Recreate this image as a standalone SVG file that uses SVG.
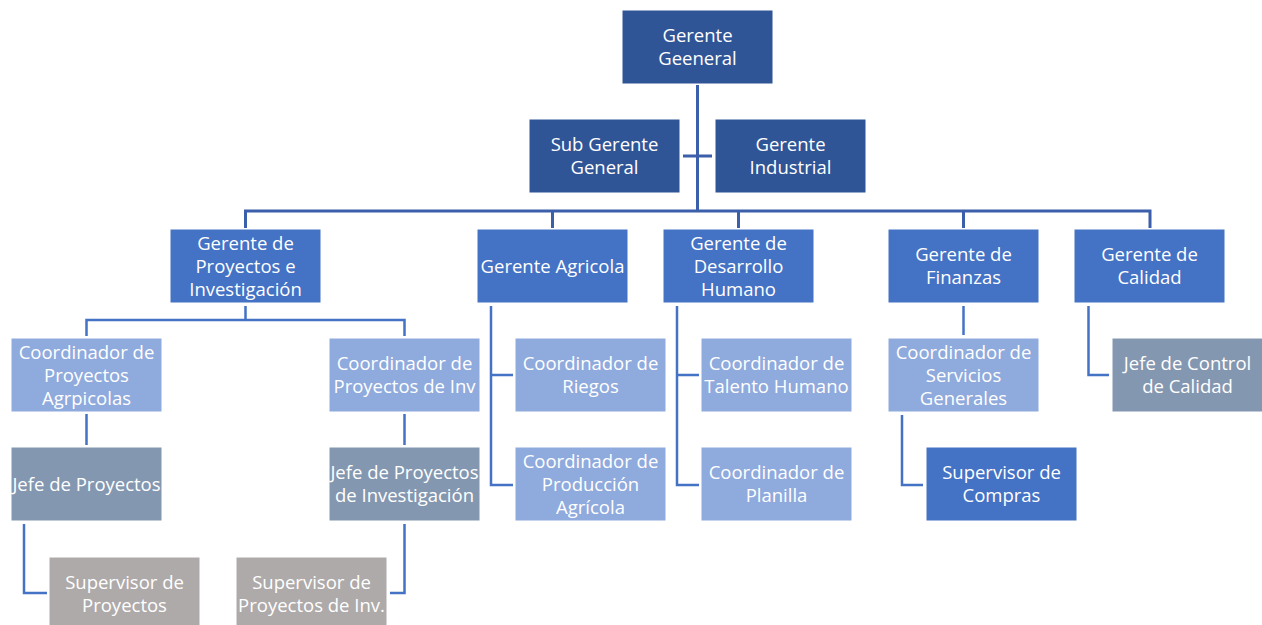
<svg xmlns="http://www.w3.org/2000/svg" width="1262" height="625" viewBox="0 0 1262 625">
<style>
.n rect{stroke:#ffffff;stroke-width:1}
.l1 rect{fill:#2F5597}
.l2 rect{fill:#4472C4}
.l3 rect{fill:#8FAADC}
.l4 rect{fill:#8497B0}
.l5 rect{fill:#AEAAAA}
.n text{font-family:"Open Sans","DejaVu Sans",sans-serif;font-size:18.5px;fill:#ffffff;text-anchor:middle}
.c{fill:none;stroke-linejoin:miter;stroke-linecap:butt}
.c1{stroke:#3B5FAA;stroke-width:3}
.c2{stroke:#4472C4;stroke-width:2.5}
</style>
<rect width="1262" height="625" fill="#ffffff"/>
<g id="connectors">
<path class="c c1" d="M697.5 85 V211 M683 156 H712 M245.5 228 V211 H1150 V228 M552.5 211 V228 M738.5 211 V228 M963.5 211 V228"/>
<path class="c c2" d="M86.5 336 V320 H404.5 V336 M245.5 306 V320"/>
<path class="c c2" d="M86.5 414 V445 M404.5 414 V445"/>
<path class="c c2" d="M24 524 V593 H47 M404.5 524 V593 H390"/>
<path class="c c2" d="M491 306 V485 H513 M491 375 H513"/>
<path class="c c2" d="M677 306 V485 H699 M677 375 H699"/>
<path class="c c2" d="M963.5 306 V335"/>
<path class="c c2" d="M902 415 V485 H923"/>
<path class="c c2" d="M1088.5 306 V375 H1109"/>
</g>
<g id="n-gerente-general" class="n l1"><rect x="622" y="10" width="151" height="74"/><text x="697.5" y="42.3">Gerente</text><text x="697.5" y="65.3">Geeneral</text></g>
<g id="n-sub-gerente" class="n l1"><rect x="529" y="119" width="151" height="74"/><text x="604.5" y="151.3">Sub Gerente</text><text x="604.5" y="174.3">General</text></g>
<g id="n-gerente-industrial" class="n l1"><rect x="715" y="119" width="151" height="74"/><text x="790.5" y="151.3">Gerente</text><text x="790.5" y="174.3">Industrial</text></g>

<g id="n-proyectos" class="n l2"><rect x="170" y="229" width="151" height="74"/><text x="245.5" y="249.8">Gerente de</text><text x="245.5" y="272.8">Proyectos e</text><text x="245.5" y="295.8">Investigación</text></g>
<g id="n-agricola" class="n l2"><rect x="477" y="229" width="151" height="74"/><text x="552.5" y="272.8">Gerente Agricola</text></g>
<g id="n-desarrollo" class="n l2"><rect x="663" y="229" width="151" height="74"/><text x="738.5" y="249.8">Gerente de</text><text x="738.5" y="272.8">Desarrollo</text><text x="738.5" y="295.8">Humano</text></g>
<g id="n-finanzas" class="n l2"><rect x="888" y="229" width="151" height="74"/><text x="963.5" y="261.3">Gerente de</text><text x="963.5" y="284.3">Finanzas</text></g>
<g id="n-calidad" class="n l2"><rect x="1074" y="229" width="151" height="74"/><text x="1149.5" y="261.3">Gerente de</text><text x="1149.5" y="284.3">Calidad</text></g>

<g id="n-coord-agr" class="n l3"><rect x="11" y="338" width="151" height="74"/><text x="86.5" y="358.8">Coordinador de</text><text x="86.5" y="381.8">Proyectos</text><text x="86.5" y="404.8">Agrpicolas</text></g>
<g id="n-coord-inv" class="n l3"><rect x="329" y="338" width="151" height="74"/><text x="404.5" y="370.3">Coordinador de</text><text x="404.5" y="393.3">Proyectos de Inv</text></g>
<g id="n-coord-riegos" class="n l3"><rect x="515" y="338" width="151" height="74"/><text x="590.5" y="370.3">Coordinador de</text><text x="590.5" y="393.3">Riegos</text></g>
<g id="n-coord-prod" class="n l3"><rect x="515" y="447" width="151" height="74"/><text x="590.5" y="467.8">Coordinador de</text><text x="590.5" y="490.8">Producción</text><text x="590.5" y="513.8">Agrícola</text></g>
<g id="n-coord-talento" class="n l3"><rect x="701" y="338" width="151" height="74"/><text x="776.5" y="370.3">Coordinador de</text><text x="776.5" y="393.3">Talento Humano</text></g>
<g id="n-coord-planilla" class="n l3"><rect x="701" y="447" width="151" height="74"/><text x="776.5" y="479.3">Coordinador de</text><text x="776.5" y="502.3">Planilla</text></g>
<g id="n-coord-serv" class="n l3"><rect x="888" y="338" width="151" height="74"/><text x="963.5" y="358.8">Coordinador de</text><text x="963.5" y="381.8">Servicios</text><text x="963.5" y="404.8">Generales</text></g>

<g id="n-jefe-proy" class="n l4"><rect x="11" y="447" width="151" height="74"/><text x="86.5" y="490.8">Jefe de Proyectos</text></g>
<g id="n-jefe-inv" class="n l4"><rect x="329" y="447" width="151" height="74"/><text x="404.5" y="479.3">Jefe de Proyectos</text><text x="404.5" y="502.3">de Investigación</text></g>
<g id="n-jefe-calidad" class="n l4"><rect x="1112" y="338" width="151" height="74"/><text x="1187.5" y="370.3">Jefe de Control</text><text x="1187.5" y="393.3">de Calidad</text></g>

<g id="n-sup-proy" class="n l5"><rect x="49" y="557" width="151" height="74"/><text x="124.5" y="589.3">Supervisor de</text><text x="124.5" y="612.3">Proyectos</text></g>
<g id="n-sup-inv" class="n l5"><rect x="236" y="557" width="151" height="74"/><text x="311.5" y="589.3">Supervisor de</text><text x="311.5" y="612.3">Proyectos de Inv.</text></g>
<g id="n-sup-compras" class="n l2"><rect x="926" y="447" width="151" height="74"/><text x="1001.5" y="479.3">Supervisor de</text><text x="1001.5" y="502.3">Compras</text></g>
</svg>
